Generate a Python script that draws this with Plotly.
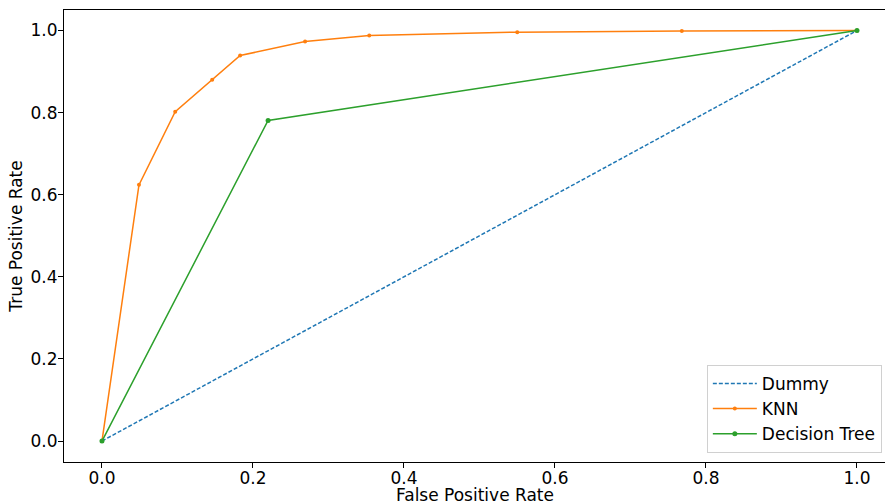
import plotly.graph_objects as go

dummy_fpr = [0.0, 1.0]
dummy_tpr = [0.0, 1.0]

knn_fpr = [0.0, 0.049, 0.097, 0.146, 0.183, 0.269, 0.354, 0.550, 0.768, 1.0]
knn_tpr = [0.0, 0.624, 0.802, 0.880, 0.939, 0.973, 0.988, 0.996, 0.999, 1.0]

tree_fpr = [0.0, 0.220, 1.0]
tree_tpr = [0.0, 0.781, 1.0]

x_ticks = [0.0, 0.2, 0.4, 0.6, 0.8, 1.0]
y_ticks = [0.0, 0.2, 0.4, 0.6, 0.8, 1.0]

x_title = "False Positive Rate"
y_title = "True Positive Rate"

fig = go.Figure()
fig.add_trace(go.Scatter(x=dummy_fpr, y=dummy_tpr, mode="lines", name="Dummy",
                         line=dict(color="#1f77b4", width=1.5, dash="4px,2px")))
fig.add_trace(go.Scatter(x=knn_fpr, y=knn_tpr, mode="lines+markers", name="KNN",
                         line=dict(color="#ff7f0e", width=1.5),
                         marker=dict(color="#ff7f0e", size=4)))
fig.add_trace(go.Scatter(x=tree_fpr, y=tree_tpr, mode="lines+markers", name="Decision Tree",
                         line=dict(color="#2ca02c", width=1.5),
                         marker=dict(color="#2ca02c", size=5)))

axis_font = dict(family="DejaVu Sans", size=17, color="black")
fig.update_layout(
    width=885, height=501,
    margin=dict(l=64, r=0, t=10, b=39, autoexpand=False),
    plot_bgcolor="white", paper_bgcolor="white",
    font=axis_font,
    showlegend=True,
    legend=dict(x=0.783, y=0.02, xanchor="left", yanchor="bottom",
                bgcolor="rgba(255,255,255,0.8)", bordercolor="#d0d0d0", borderwidth=1,
                font=dict(family="DejaVu Sans", size=17, color="black"),
                tracegroupgap=1, itemwidth=44),
    xaxis=dict(range=[-0.0503, 1.0371], tickvals=x_ticks, ticktext=[f"{v:.1f}" for v in x_ticks],
               showgrid=False, zeroline=False, showline=True, linecolor="black", linewidth=1,
               mirror=True, ticks="outside", ticklen=5, tickcolor="black", automargin=False,
               ticklabelstandoff=-4),
    yaxis=dict(range=[-0.051, 1.0499], tickvals=y_ticks, ticktext=[f"{v:.1f}" for v in y_ticks],
               showgrid=False, zeroline=False, showline=True, linecolor="black", linewidth=1,
               ticks="outside", ticklen=5, tickcolor="black", automargin=False,
               ticklabelstandoff=-3,
               title=dict(text=y_title, font=axis_font, standoff=3)),
    annotations=[dict(text=x_title, xref="paper", yref="paper", x=0.5, y=-0.047,
                      xanchor="center", yanchor="top", showarrow=False, font=axis_font)],
)

fig.write_html("out.html", config={"displayModeBar": False},
               post_script="document.body.style.margin='0';document.body.style.overflow='hidden';")
